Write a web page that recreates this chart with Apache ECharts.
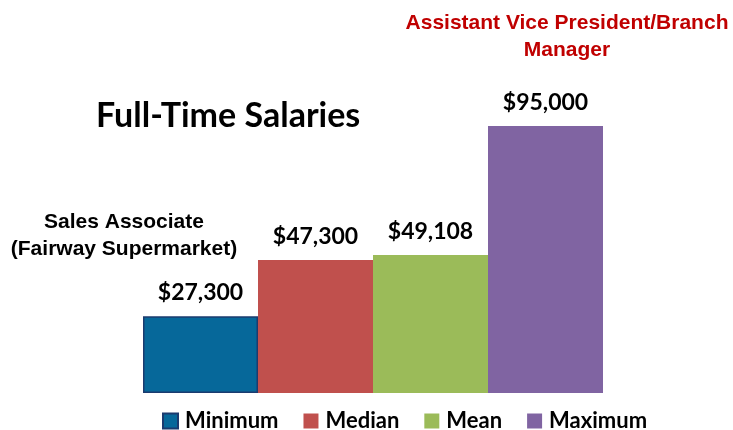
<!DOCTYPE html>
<html>
<head>
    <meta charset="utf-8">
    <script src="https://cdn.jsdelivr.net/npm/echarts@6/dist/echarts.min.js"></script>
</head>
<body style="margin:0;background:#fff;">
<div id="main" style="width:733px;height:430px;"></div>
<script type="text/javascript">
    // salary statistics
    var seriesNames = ['Minimum', 'Median', 'Mean', 'Maximum'];
    var salaries = [27300, 47300, 49108, 95000];
    var colors = ['#06689A', '#C0504D', '#9BBB59', '#8064A2'];

    var myChart = echarts.init(document.getElementById('main'));

    var series = [];
    for (let i = 0; i < seriesNames.length; i++) {
        series.push({
            name: seriesNames[i],
            type: 'bar',
            data: [salaries[i]],
            barGap: 0,
            barCategoryGap: 0,
            itemStyle: {
                color: colors[i],
                borderColor: i === 0 ? '#1B3B6F' : colors[i],
                borderWidth: i === 0 ? 1.5 : 0
            },
            label: {
                show: true,
                position: 'top',
                distance: 12,
                fontFamily: 'Lato',
                fontWeight: 'bold',
                fontSize: 23,
                color: '#000',
                formatter: function (p) {
                    return '$' + p.value.toLocaleString('en-US');
                }
            }
        });
    }

    myChart.setOption({
        animation: false,
        title: {
            text: 'Full-Time Salaries',
            left: 91,
            top: 94,
            textStyle: {fontFamily: 'Lato', fontWeight: 'bold', fontSize: 34, color: '#000'}
        },
        legend: {
            data: seriesNames,
            left: 157,
            top: 405,
            itemWidth: 15,
            itemHeight: 15,
            itemGap: 25,
            icon: 'rect',
            textStyle: {fontFamily: 'Lato', fontWeight: 'bold', fontSize: 22, color: '#000', padding: [0, 0, 0, 2]}
        },
        grid: {left: 143, right: 130, top: 112, bottom: 37},
        xAxis: {
            type: 'category',
            data: ['Salaries'],
            show: false
        },
        yAxis: {
            type: 'value',
            min: 0,
            max: 100000,
            show: false
        },
        graphic: [
            {
                type: 'text',
                style: {
                    text: 'Assistant Vice President/Branch\nManager',
                    x: 567, y: 10, align: 'center',
                    font: 'bold 21px "Liberation Sans", Arial', fill: '#C00000', lineHeight: 27
                }
            },
            {
                type: 'text',
                style: {
                    text: 'Sales Associate\n(Fairway Supermarket)',
                    x: 124, y: 209, align: 'center',
                    font: 'bold 21px "Liberation Sans", Arial', fill: '#000', lineHeight: 27
                }
            }
        ],
        series: series
    });
</script>
</body>
</html>
